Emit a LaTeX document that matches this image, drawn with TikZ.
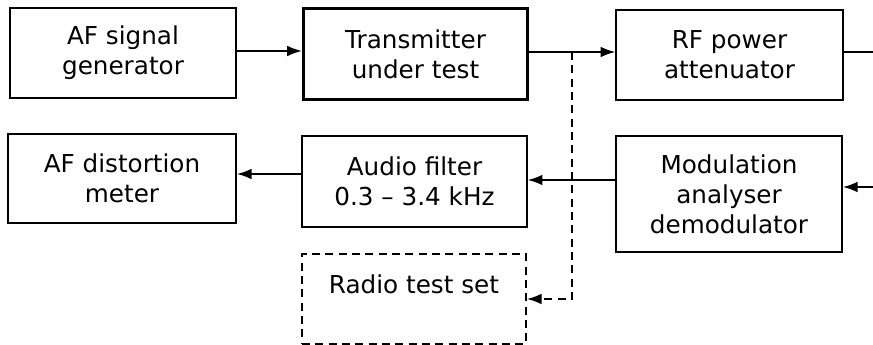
\documentclass[tikz,border=0pt]{standalone}
\usepackage{fontspec}
\setmainfont{DejaVu Sans}
\usetikzlibrary{arrows.meta}

\tikzset{every picture/.style={line width=1.3pt}}
\tikzset{
	blockbox/.style={draw, line width=1.3pt, align=center, inner sep=0pt, font=\fontsize{18.5}{22.5}\selectfont},
	testbox/.style={blockbox, dashed, dash pattern=on 6pt off 4pt},
	sigline/.style={-{Latex[length=11pt,width=8pt]}},
	tapline/.style={sigline, dashed, dash pattern=on 6pt off 4pt}
}

\begin{document}
\begin{tikzpicture}[x=0.75pt,y=0.75pt,yscale=-1,xscale=1]
	\useasboundingbox (0,0) rectangle (873,345);
	
	% top row
	\node [blockbox, minimum width=169.5pt, minimum height=67.5pt] (gen) at (123,53) {AF signal\\generator};
	\node [blockbox, line width=2.4pt, minimum width=168pt, minimum height=68pt] (tx) at (415.5,54) {Transmitter\\under test};
	\node [blockbox, minimum width=170pt, minimum height=67.5pt] (att) at (729.5,55) {RF power\\attenuator};
	
	% bottom row
	\node [blockbox, minimum width=171pt, minimum height=67pt] (meter) at (122,178.5) {AF distortion\\meter};
	\node [blockbox, minimum width=168.5pt, minimum height=68pt] (filt) at (414.5,181.5) {Audio filter\\0.3 -- 3.4 kHz};
	\node [blockbox, minimum width=169.5pt, minimum height=87pt] (demod) at (729,194) {Modulation\\analyser\\demodulator};
	\node [testbox, minimum width=168pt, minimum height=67.5pt] (rts) at (414,299) {Radio test set\\~};
	
	% free ends
	\coordinate (outR) at (873,52);
	\coordinate (inR) at (873,187);
	\coordinate (tap) at (572,52);
	
	% connectors
	\draw [sigline] (gen.east |- 0,51) -- (tx.west |- 0,51);
	\draw [sigline] (tx.east |- tap) -- (att.west |- tap);
	\draw (att.east |- outR) -- (outR);
	\draw [tapline] (tap) |- (rts.east);
	\draw [sigline] (inR) -- (inR -| demod.east);
	\draw [sigline] (demod.west |- 0,180) -- (filt.east |- 0,180);
	\draw [sigline] (filt.west |- 0,174) -- (meter.east |- 0,174);
	
\end{tikzpicture}
\end{document}
